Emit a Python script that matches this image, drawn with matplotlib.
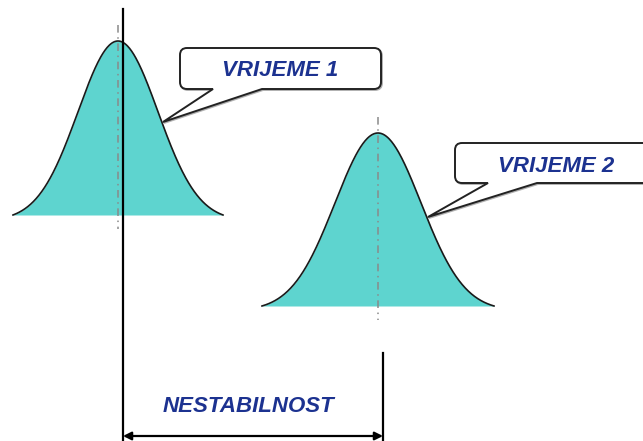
import numpy as np
import matplotlib
matplotlib.use("Agg")
import matplotlib.pyplot as plt
from matplotlib.path import Path
from matplotlib.patches import PathPatch
from matplotlib.transforms import Affine2D

# two measurements of the same process, drawn in a pixel-like frame (y down)
labels = ["VRIJEME 1", "VRIJEME 2"]
centers = [118, 378]
spreads = [40, 43]
half_spans = [105, 116]
peaks = [41, 133]
bases = [215, 306]

# callout boxes: (left, top, right, bottom), pointer base x's, pointer tip
boxes = [(180, 48, 381, 89), (455, 143, 665, 183)]
pointer_bases = [(213, 262), (488, 537)]
pointer_tips = [(163, 122), (428, 217)]
label_pos = [(280, 70), (556, 166)]

shift_label = "NESTABILNOST"

FILL = "#5ED4CF"
NAVY = "#1C3290"


def callout_path(box, b, tip, r=7):
    x0, y0, x1, y1 = box
    verts = [
        (x0 + r, y0), (x1 - r, y0),
        (x1, y0), (x1, y0 + r),
        (x1, y1 - r),
        (x1, y1), (x1 - r, y1),
        (b[1], y1), tip, (b[0], y1),
        (x0 + r, y1),
        (x0, y1), (x0, y1 - r),
        (x0, y0 + r),
        (x0, y0), (x0 + r, y0),
        (x0 + r, y0),
    ]
    codes = [
        Path.MOVETO, Path.LINETO,
        Path.CURVE3, Path.CURVE3,
        Path.LINETO,
        Path.CURVE3, Path.CURVE3,
        Path.LINETO, Path.LINETO, Path.LINETO,
        Path.LINETO,
        Path.CURVE3, Path.CURVE3,
        Path.LINETO,
        Path.CURVE3, Path.CURVE3,
        Path.CLOSEPOLY,
    ]
    return Path(verts, codes)


fig = plt.figure(figsize=(6.43, 4.41), dpi=100)
ax = fig.add_axes([0, 0, 1, 1])
ax.set_xlim(0, 643)
ax.set_ylim(441, 0)
ax.axis("off")

for mu, sd, hs, top, base in zip(centers, spreads, half_spans, peaks, bases):
    x = np.linspace(mu - hs, mu + hs, 300)
    g = np.exp(-0.5 * ((x - mu) / sd) ** 2)
    g_end = np.exp(-0.5 * (hs / sd) ** 2)
    g = (g - g_end) / (1 - g_end)
    y = base - (base - top) * g
    ax.fill_between(x, y, base, color=FILL, lw=0, zorder=2)
    ax.plot(x, y, color="#1a1a1a", lw=1.2, zorder=3)
    ax.plot([mu, mu], [top - 16, base + 14], color="#8a8a8a", lw=1.1,
            ls=(0, (5, 3, 1, 3)), zorder=4)

# reference lines and the shift between the two means
ax.plot([123, 123], [9, 440], color="black", lw=1.6, zorder=5)
ax.plot([383, 383], [353, 440], color="black", lw=1.6, zorder=5)
ax.annotate("", xy=(123, 436), xytext=(383, 436),
            arrowprops=dict(arrowstyle="<|-|>", color="black", lw=1.6,
                            mutation_scale=12, shrinkA=0, shrinkB=0),
            zorder=5)
ax.text(248, 406, shift_label, ha="center", va="center", fontsize=16,
        fontweight="bold", fontstyle="italic", color=NAVY,
        family="Liberation Sans")

for box, b, tip, pos, lab in zip(boxes, pointer_bases, pointer_tips,
                                 label_pos, labels):
    p = callout_path(box, b, tip)
    shadow = PathPatch(p.transformed(Affine2D().translate(1.0, 1.0)),
                       facecolor="none", edgecolor="#b0b0b0", lw=1.4, zorder=6)
    ax.add_patch(shadow)
    ax.add_patch(PathPatch(p, facecolor="white", edgecolor="#222222",
                           lw=1.4, zorder=7))
    ax.text(pos[0], pos[1], lab, ha="center", va="center", fontsize=16,
            fontweight="bold", fontstyle="italic", color=NAVY,
            family="Liberation Sans", zorder=8)

fig.savefig("out.png", dpi=100)
